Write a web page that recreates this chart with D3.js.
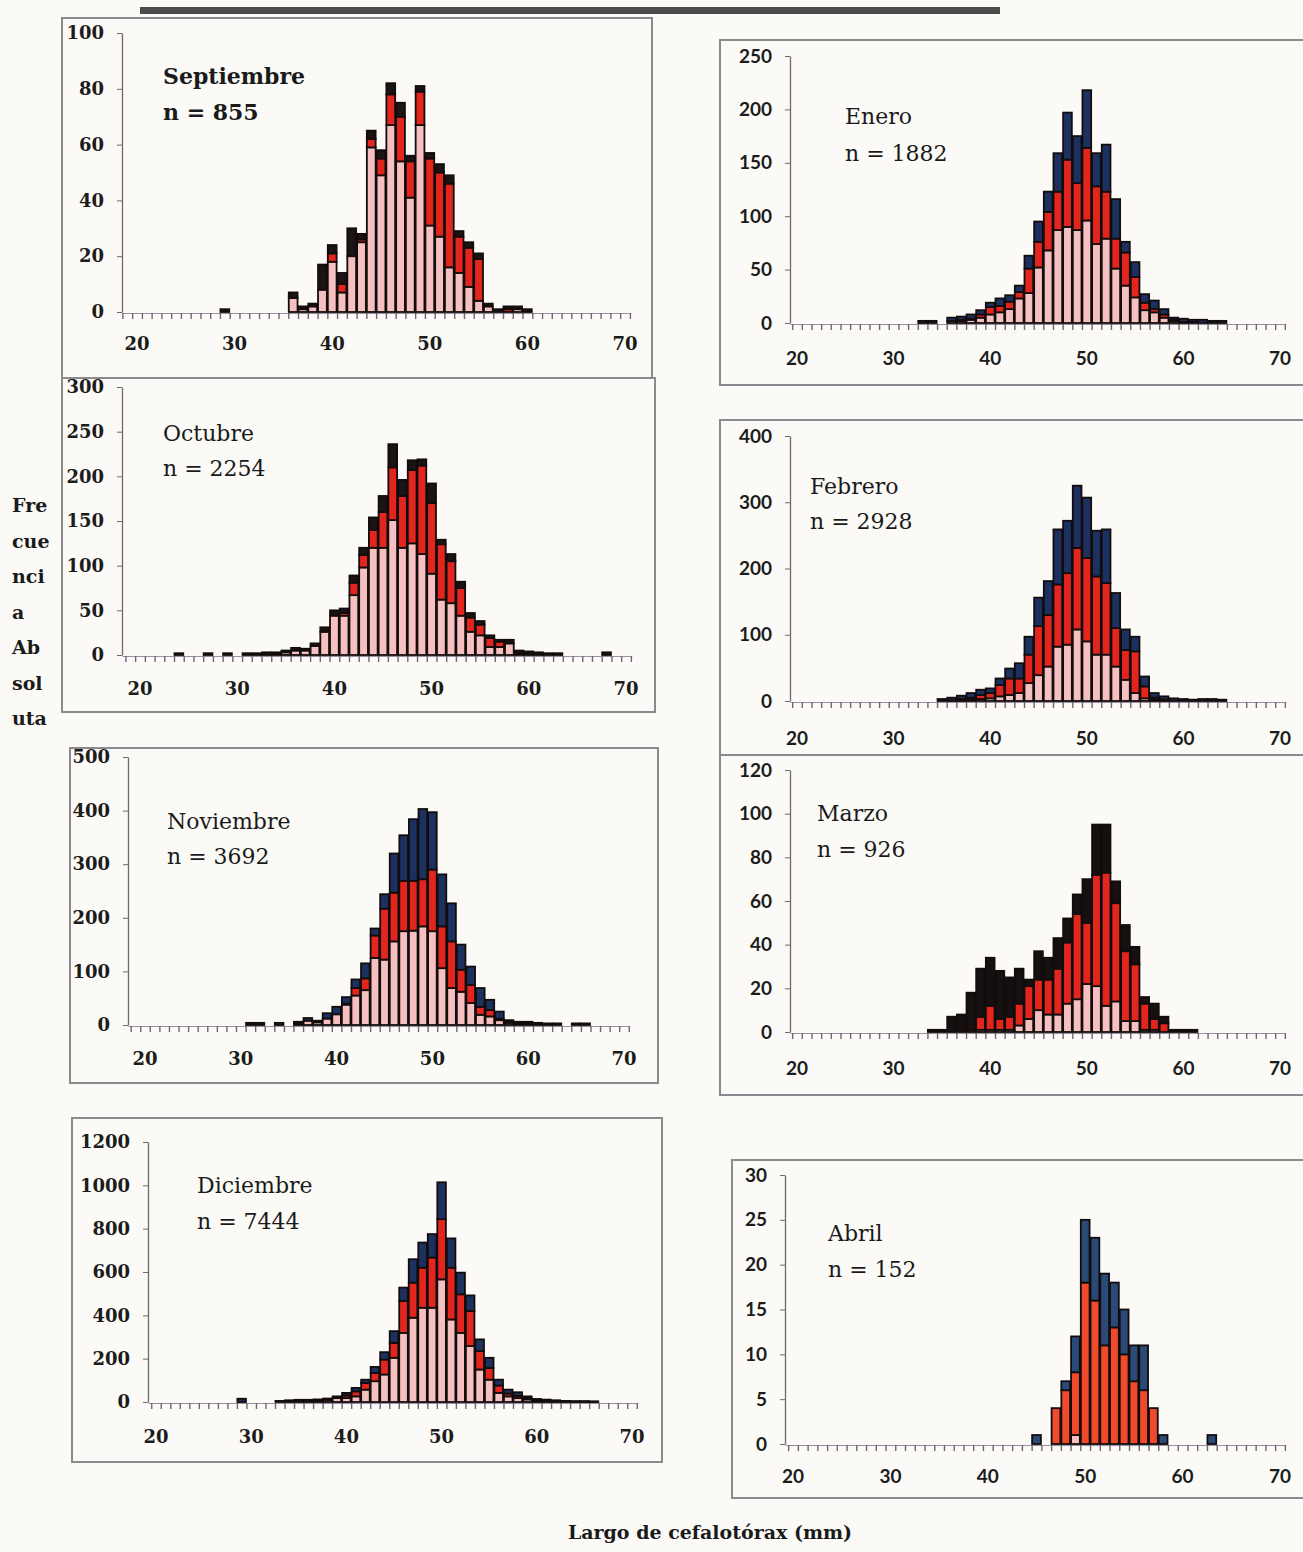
<!DOCTYPE html>
<html>
<head>
<meta charset="utf-8">
<script src="https://cdn.jsdelivr.net/npm/d3@7"></script>
<style>
  body { margin: 0; background: #fbfaf6; }
  svg { display: block; }
</style>
</head>
<body>
<div id="chart"></div>
<script>
// carapace length classes (mm), one bar per class
const lengthsMm = [24, 25, 26, 27, 28, 29, 30, 31, 32, 33, 34, 35, 36, 37, 38, 39, 40, 41, 42, 43, 44, 45, 46,
    47, 48, 49, 50, 51, 52, 53, 54, 55, 56, 57, 58, 59, 60, 61, 62, 63, 64, 65, 66, 67, 68, 69];
const xTickLabels = [20, 30, 40, 50, 60, 70];

// stacked frequencies: pink (bottom), red (middle), dark (top)
const sepPink = [0,0,0,0,0,0,0,0,0,0,0,0,5,1,2,8,18,7,20,25,59,49,67,54,41,67,31,27,16,14,9,4,2,0,0,1,0,0,0,0,0,0,0,0,0,0];
const sepRed  = [0,0,0,0,0,0,0,0,0,0,0,0,0,0,0,0,3,3,0,1,3,6,11,16,13,12,24,23,30,13,14,15,0,0,1,0,0,0,0,0,0,0,0,0,0,0];
const sepTop  = [0,0,0,0,0,1,0,0,0,0,0,0,2,1,1,9,3,4,10,2,3,3,4,5,2,2,2,3,3,2,2,2,1,1,1,1,1,0,0,0,0,0,0,0,0,0];

const octPink = [0,0,0,0,0,0,0,0,0,1,1,3,5,5,10,26,44,44,67,98,120,120,151,120,125,113,91,62,58,44,26,22,9,9,13,2,1,0,0,0,0,0,0,0,0,0];
const octRed  = [0,0,0,0,0,0,0,0,0,0,0,0,0,0,0,0,0,3,14,14,20,40,59,58,82,99,79,62,47,31,16,12,10,6,0,0,0,0,0,0,0,0,0,0,0,0];
const octTop  = [2,0,0,2,0,2,0,2,2,2,2,2,3,2,3,5,6,5,8,8,14,18,26,18,11,7,22,5,8,7,5,4,3,2,4,3,3,3,2,2,0,0,0,0,3,0];

const novPink = [0,0,0,0,0,0,0,0,0,0,0,0,3,8,5,12,20,38,55,65,125,122,156,175,176,184,175,106,69,62,41,19,16,9,4,3,3,2,0,0,0,0,0,0,0,0];
const novRed  = [0,0,0,0,0,0,0,0,0,0,0,0,0,0,0,0,0,2,14,22,42,95,91,94,93,88,115,78,87,41,34,15,12,3,2,0,0,0,0,0,0,0,0,0,0,0];
const novTop  = [0,0,0,0,0,0,0,4,4,0,4,0,3,5,3,10,14,12,16,28,13,27,73,85,115,131,107,97,71,47,34,35,19,13,3,3,3,2,3,3,0,3,3,0,0,0];

const dicPink = [0,0,0,0,0,0,0,0,0,0,4,5,5,7,10,18,18,26,57,96,127,204,319,389,435,435,566,381,319,258,150,103,42,26,18,12,6,5,4,2,2,2,1,0,0,0];
const dicRed  = [0,0,0,0,0,0,0,0,0,0,0,0,0,0,0,0,12,23,31,38,69,69,147,162,185,232,278,239,178,162,85,54,34,13,10,6,3,2,0,0,0,0,0,0,0,0];
const dicTop  = [0,0,0,0,0,15,0,0,0,5,4,5,5,5,6,8,12,16,15,28,34,54,62,108,116,108,170,135,100,72,54,47,27,18,17,8,5,4,4,3,2,2,2,0,0,0];

const enePink = [0,0,0,0,0,0,0,0,0,0,0,0,2,2,3,5,8,10,13,23,28,52,68,87,90,87,96,74,79,51,35,24,12,10,5,2,1,1,0,0,0,0,0,0,0,0];
const eneRed  = [0,0,0,0,0,0,0,0,0,0,0,0,0,1,1,3,7,6,7,6,23,24,36,36,63,44,68,54,44,28,31,19,7,3,3,1,0,0,0,0,0,0,0,0,0,0];
const eneTop  = [0,0,0,0,0,0,0,0,0,2,2,0,3,3,4,4,4,7,6,6,12,19,19,36,44,44,54,31,44,37,10,14,8,8,5,2,3,2,3,2,2,0,0,0,0,0];

const febPink = [0,0,0,0,0,0,0,0,0,0,0,0,0,1,2,3,4,7,9,12,27,39,52,82,85,108,90,70,70,52,32,12,4,2,1,0,0,0,0,0,0,0,0,0,0,0];
const febRed  = [0,0,0,0,0,0,0,0,0,0,0,0,1,2,3,6,8,17,25,22,43,74,78,94,108,123,126,118,108,58,45,63,18,3,1,0,0,0,0,0,0,0,0,0,0,0];
const febTop  = [0,0,0,0,0,0,0,0,0,0,0,3,4,5,7,8,7,10,15,23,27,43,51,83,79,94,91,69,81,53,31,22,15,7,5,4,3,2,3,3,2,0,0,0,0,0];

const marPink = [0,0,0,0,0,0,0,0,0,0,0,0,0,0,0,1,1,1,1,3,6,10,8,8,13,15,22,21,12,14,5,5,1,1,0,0,0,0,0,0,0,0,0,0,0,0];
const marRed  = [0,0,0,0,0,0,0,0,0,0,0,0,0,0,1,6,11,5,6,10,15,14,16,21,28,39,28,51,61,45,32,26,12,5,4,0,0,0,0,0,0,0,0,0,0,0];
const marTop  = [0,0,0,0,0,0,0,0,0,0,1,1,7,8,17,22,22,22,18,16,3,13,10,14,11,9,20,23,22,10,12,8,3,7,3,1,1,1,0,0,0,0,0,0,0,0];

const abrPink = [0,0,0,0,0,0,0,0,0,0,0,0,0,0,0,0,0,0,0,0,0,0,0,0,0,1,0,0,0,0,0,0,0,0,0,0,0,0,0,0,0,0,0,0,0,0];
const abrRed  = [0,0,0,0,0,0,0,0,0,0,0,0,0,0,0,0,0,0,0,0,0,0,0,4,6,7,18,16,11,13,10,7,6,4,0,0,0,0,0,0,0,0,0,0,0,0];
const abrTop  = [0,0,0,0,0,0,0,0,0,0,0,0,0,0,0,0,0,0,0,0,0,1,0,0,1,4,7,7,8,5,5,4,5,0,1,0,0,0,0,1,0,0,0,0,0,0];

const sepYTicks = [0, 20, 40, 60, 80, 100];
const octYTicks = [0, 50, 100, 150, 200, 250, 300];
const novYTicks = [0, 100, 200, 300, 400, 500];
const dicYTicks = [0, 200, 400, 600, 800, 1000, 1200];
const eneYTicks = [0, 50, 100, 150, 200, 250];
const febYTicks = [0, 100, 200, 300, 400];
const marYTicks = [0, 20, 40, 60, 80, 100, 120];
const abrYTicks = [0, 5, 10, 15, 20, 25, 30];

const monthNames = ['Septiembre', 'Octubre', 'Noviembre', 'Diciembre', 'Enero', 'Febrero', 'Marzo', 'Abril'];
const sampleSizes = [855, 2254, 3692, 7444, 1882, 2928, 926, 152];

const months = [
    { pink: sepPink, red: sepRed, top: sepTop, yTicks: sepYTicks },
    { pink: octPink, red: octRed, top: octTop, yTicks: octYTicks },
    { pink: novPink, red: novRed, top: novTop, yTicks: novYTicks },
    { pink: dicPink, red: dicRed, top: dicTop, yTicks: dicYTicks },
    { pink: enePink, red: eneRed, top: eneTop, yTicks: eneYTicks },
    { pink: febPink, red: febRed, top: febTop, yTicks: febYTicks },
    { pink: marPink, red: marRed, top: marTop, yTicks: marYTicks },
    { pink: abrPink, red: abrRed, top: abrTop, yTicks: abrYTicks }
].map((m, i) => Object.assign(m, { name: monthNames[i], n: sampleSizes[i] }));

// where each panel sits on the page
const layouts = [
    { box: [62, 18, 590, 360], axisX: 122, x20: 137, x70: 625, y0: 312, yTopPx: 33, labelY: 345, titleX: 163, titleY: 84, nY: 120, side: 'left', dark: '#1c1414', bold: true },
    { box: [62, 378, 593, 334], axisX: 122, x20: 140, x70: 626, y0: 655, yTopPx: 387, labelY: 690, titleX: 163, titleY: 441, nY: 476, side: 'left', dark: '#1c1414' },
    { box: [70, 748, 588, 335], axisX: 128, x20: 145, x70: 624, y0: 1025, yTopPx: 757, labelY: 1060, titleX: 167, titleY: 829, nY: 864, side: 'left', dark: '#1d3160' },
    { box: [72, 1118, 590, 344], axisX: 148, x20: 156, x70: 632, y0: 1402, yTopPx: 1142, labelY: 1438, titleX: 197, titleY: 1193, nY: 1229, side: 'left', dark: '#1d3160' },
    { box: [720, 40, 600, 345], axisX: 790, x20: 797, x70: 1280, y0: 323, yTopPx: 56, labelY: 360, titleX: 845, titleY: 124, nY: 161, side: 'right', dark: '#1d3160' },
    { box: [720, 420, 600, 335], axisX: 790, x20: 797, x70: 1280, y0: 701, yTopPx: 436, labelY: 740, titleX: 810, titleY: 494, nY: 529, side: 'right', dark: '#1d3160' },
    { box: [720, 755, 600, 340], axisX: 790, x20: 797, x70: 1280, y0: 1032, yTopPx: 770, labelY: 1070, titleX: 817, titleY: 821, nY: 857, side: 'right', dark: '#161010' },
    { box: [732, 1160, 590, 338], axisX: 785, x20: 793, x70: 1280, y0: 1444, yTopPx: 1175, labelY: 1478, titleX: 828, titleY: 1241, nY: 1277, side: 'right', dark: '#2b4a78', red: '#ef4a2b' }
];

const svgWidth = 1303;
const svgHeight = 1552;
const serif = "'DejaVu Serif', 'Liberation Serif', serif";
const sans = "Lato, 'Open Sans', sans-serif";

const svg = d3.select('#chart')
    .append('svg')
    .attr('width', svgWidth)
    .attr('height', svgHeight);

svg.append('rect')
    .attr('width', svgWidth)
    .attr('height', svgHeight)
    .attr('fill', '#fbfaf6');

// dark rule across the top of the page
svg.append('rect')
    .attr('x', 140)
    .attr('y', 7)
    .attr('width', 860)
    .attr('height', 7)
    .attr('fill', '#4d4a4c');

months.forEach((month, i) => drawPanel(month, layouts[i]));

// shared axis titles
const yTitleLines = ['Fre', 'cue', 'nci', 'a', 'Ab', 'sol', 'uta'];
svg.append('g')
    .selectAll('text')
    .data(yTitleLines)
    .join('text')
    .attr('x', 12)
    .attr('y', (d, i) => 512 + i * 35.5)
    .attr('font-family', serif)
    .attr('font-weight', 'bold')
    .attr('font-size', 19)
    .attr('fill', '#1a1a1a')
    .text(d => d);

svg.append('text')
    .attr('x', 710)
    .attr('y', 1539)
    .attr('text-anchor', 'middle')
    .attr('font-family', serif)
    .attr('font-weight', 'bold')
    .attr('font-size', 19)
    .attr('fill', '#1a1a1a')
    .text('Largo de cefalotórax (mm)');

function drawPanel(month, lay) {
    const g = svg.append('g');

    g.append('rect')
        .attr('x', lay.box[0])
        .attr('y', lay.box[1])
        .attr('width', lay.box[2])
        .attr('height', lay.box[3])
        .attr('fill', 'none')
        .attr('stroke', '#8c8a8e')
        .attr('stroke-width', 2);

    const x = d3.scaleLinear()
        .domain([20, 70])
        .range([lay.x20, lay.x70]);

    const yMax = d3.max(month.yTicks);
    const y = d3.scaleLinear()
        .domain([0, yMax])
        .range([lay.y0, lay.yTopPx]);

    const rows = lengthsMm.map((mm, k) => ({
        mm: mm,
        pink: month.pink[k],
        red: month.red[k],
        top: month.top[k]
    }));

    const series = d3.stack().keys(['pink', 'red', 'top'])(rows);
    const colors = { pink: '#f5c0bf', red: lay.red || '#e3261d', top: lay.dark };
    const barWidth = (x(21) - x(20)) * 0.9;

    g.append('g')
        .selectAll('g')
        .data(series)
        .join('g')
        .attr('fill', d => colors[d.key])
        .selectAll('rect')
        .data(d => d.filter(p => p[1] > p[0]))
        .join('rect')
        .attr('x', d => x(d.data.mm) - barWidth / 2)
        .attr('y', d => y(d[1]))
        .attr('width', barWidth)
        .attr('height', d => y(d[0]) - y(d[1]))
        .attr('stroke', '#120c0c')
        .attr('stroke-width', 1.8);

    // category axis: small ticks between the 1 mm classes
    const xStart = x.invert(lay.axisX);
    const xEnd = 70.6;
    const xAxisScale = x.copy().domain([xStart, xEnd]).range([lay.axisX, x(xEnd)]);
    const tickSpots = d3.range(Math.ceil(xStart - 0.5) + 0.5, xEnd, 1);

    const xAxis = g.append('g')
        .attr('transform', `translate(0, ${lay.y0 + 1})`)
        .call(d3.axisBottom(xAxisScale)
            .tickValues(tickSpots)
            .tickSize(6)
            .tickSizeOuter(0)
            .tickFormat(''));
    xAxis.select('.domain').attr('stroke', '#9a8fa0').attr('stroke-width', 1);
    xAxis.selectAll('.tick line').attr('stroke', '#6f6478').attr('stroke-width', 1.4);

    g.append('g')
        .selectAll('text')
        .data(xTickLabels)
        .join('text')
        .attr('x', d => x(d))
        .attr('y', lay.labelY)
        .attr('text-anchor', 'middle')
        .attr('dominant-baseline', 'middle')
        .attr('font-family', lay.side === 'left' ? serif : sans)
        .attr('font-weight', 'bold')
        .attr('font-size', lay.side === 'left' ? 18 : 19)
        .attr('fill', '#1c1c1c')
        .text(d => d);

    const yAxis = g.append('g')
        .attr('transform', `translate(${lay.axisX}, 0)`)
        .call(d3.axisLeft(y)
            .tickValues(month.yTicks)
            .tickFormat(d3.format('d'))
            .tickSize(5)
            .tickSizeOuter(0)
            .tickPadding(13));
    yAxis.select('.domain').attr('stroke', '#6e6a70').attr('stroke-width', 1.3);
    yAxis.selectAll('.tick line').attr('stroke', '#6e6a70');
    yAxis.selectAll('.tick text')
        .attr('font-family', lay.side === 'left' ? serif : sans)
        .attr('font-weight', 'bold')
        .attr('font-size', lay.side === 'left' ? 18 : 19)
        .attr('fill', '#1c1c1c');

    g.append('text')
        .attr('x', lay.titleX)
        .attr('y', lay.titleY)
        .attr('font-family', serif)
        .attr('font-weight', lay.bold ? 'bold' : 'normal')
        .attr('font-size', 22)
        .attr('fill', '#1a1a1a')
        .text(month.name);

    g.append('text')
        .attr('x', lay.titleX)
        .attr('y', lay.nY)
        .attr('font-family', serif)
        .attr('font-weight', lay.bold ? 'bold' : 'normal')
        .attr('font-size', 22)
        .attr('fill', '#1a1a1a')
        .text('n = ' + month.n);
}
</script>
</body>
</html>
